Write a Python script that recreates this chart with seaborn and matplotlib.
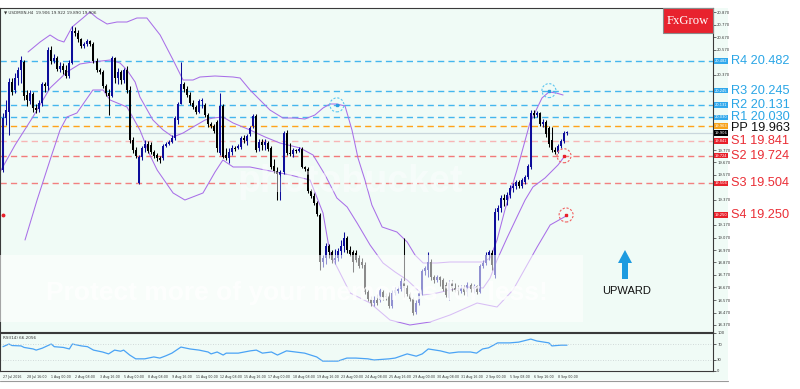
import numpy as np
import pandas as pd
import matplotlib
matplotlib.use("Agg")
import matplotlib.pyplot as plt
import seaborn as sns
from matplotlib.patches import Rectangle, Polygon, Ellipse

# ---------------- data (USDMXN, H4) ----------------
opens = [19.610, 20.026, 20.074, 20.314, 20.250, 20.346, 20.410, 20.474, 20.210, 20.162,
         20.218, 20.106, 20.098, 20.146, 20.298, 20.282, 20.570, 20.482, 20.506, 20.418,
         20.442, 20.410, 20.362, 20.466, 20.722, 20.706, 20.658, 20.602, 20.618, 20.642,
         20.618, 20.482, 20.410, 20.394, 20.282, 20.226, 20.202, 20.506, 20.346, 20.394,
         20.330, 20.410, 20.250, 19.850, 19.770, 19.506, 19.714, 19.786, 19.818, 19.810,
         19.754, 19.730, 19.706, 19.706, 19.802, 19.818, 19.834, 19.866, 20.010, 20.138,
         20.298, 20.258, 20.210, 20.146, 20.114, 20.074, 20.162, 20.130, 20.050, 19.978,
         19.962, 19.994, 19.746, 20.122, 19.730, 19.706, 19.754, 19.786, 19.786, 19.794,
         19.866, 19.842, 19.898, 19.962, 20.042, 19.786, 19.834, 19.810, 19.826, 19.786,
         19.642, 19.602, 19.570, 19.594, 19.906, 19.746, 19.738, 19.770, 19.762, 19.778,
         19.634, 19.618, 19.442, 19.402, 19.346, 19.250, 18.874, 18.906, 19.002, 18.954,
         18.890, 18.906, 18.962, 19.002, 19.066, 18.970, 18.954, 18.946, 18.906, 18.874,
         18.850, 18.634, 18.578, 18.546, 18.570, 18.570, 18.634, 18.602, 18.602, 18.522,
         18.626, 18.642, 18.658, 18.722, 18.666, 18.618, 18.578, 18.474, 18.546, 18.626,
         18.802, 18.810, 18.874, 18.754, 18.730, 18.754, 18.730, 18.690, 18.586, 18.706,
         18.666, 18.650, 18.642, 18.666, 18.634, 18.690, 18.658, 18.682, 18.634, 18.842,
         18.866, 18.930, 18.946, 18.770, 19.274, 19.306, 19.386, 19.370, 19.410, 19.466,
         19.482, 19.514, 19.482, 19.514, 19.554, 19.634, 20.066, 20.050, 20.066, 19.978,
         19.994, 19.946, 19.850, 19.770, 19.754, 19.802, 19.842, 19.906]
highs = [20.066, 20.170, 20.346, 20.346, 20.386, 20.434, 20.522, 20.490, 20.250, 20.250,
         20.234, 20.138, 20.170, 20.314, 20.314, 20.594, 20.602, 20.538, 20.522, 20.474,
         20.466, 20.450, 20.490, 20.762, 20.754, 20.730, 20.666, 20.634, 20.658, 20.650,
         20.634, 20.506, 20.426, 20.410, 20.298, 20.258, 20.522, 20.514, 20.426, 20.410,
         20.426, 20.442, 20.282, 19.874, 19.794, 19.730, 19.802, 19.850, 19.842, 19.834,
         19.770, 19.746, 19.722, 19.818, 19.834, 19.850, 19.890, 20.042, 20.154, 20.474,
         20.314, 20.282, 20.234, 20.170, 20.130, 20.178, 20.186, 20.146, 20.066, 19.994,
         19.978, 20.010, 20.226, 20.138, 19.786, 19.786, 19.810, 19.802, 19.818, 19.882,
         19.890, 19.898, 19.962, 20.058, 20.058, 19.858, 19.858, 19.858, 19.842, 19.802,
         19.698, 19.634, 19.610, 19.922, 19.930, 19.826, 19.786, 19.778, 19.794, 19.794,
         19.642, 19.634, 19.458, 19.426, 19.362, 19.266, 18.930, 19.026, 19.018, 18.970,
         18.978, 18.986, 19.050, 19.114, 19.082, 19.002, 18.970, 18.970, 18.930, 18.906,
         18.874, 18.650, 18.602, 18.602, 18.618, 18.666, 18.650, 18.626, 18.634, 18.650,
         18.674, 18.682, 18.746, 19.066, 18.690, 18.634, 18.594, 18.570, 18.642, 18.818,
         18.842, 18.954, 18.898, 18.770, 18.770, 18.762, 18.746, 18.714, 18.730, 18.730,
         18.706, 18.690, 18.690, 18.690, 18.714, 18.706, 18.698, 18.690, 18.858, 18.890,
         18.954, 18.970, 18.970, 19.306, 19.330, 19.410, 19.418, 19.434, 19.490, 19.506,
         19.530, 19.530, 19.546, 19.570, 19.658, 20.090, 20.090, 20.082, 20.074, 20.018,
         20.010, 19.962, 19.954, 19.794, 19.818, 19.858, 19.922, 19.922]
lows = [19.594, 19.970, 19.890, 20.210, 20.226, 20.290, 20.306, 20.170, 20.122, 20.138,
        20.074, 20.066, 20.074, 20.122, 20.234, 20.250, 20.458, 20.466, 20.402, 20.394,
        20.378, 20.346, 20.346, 20.458, 20.682, 20.634, 20.586, 20.586, 20.602, 20.602,
        20.466, 20.394, 20.378, 20.266, 20.202, 20.050, 20.194, 20.306, 20.298, 20.298,
        20.306, 20.226, 19.826, 19.746, 19.706, 19.498, 19.690, 19.754, 19.746, 19.738,
        19.706, 19.682, 19.666, 19.690, 19.794, 19.810, 19.826, 19.850, 19.978, 20.138,
        20.234, 20.194, 20.130, 20.098, 20.058, 20.066, 20.106, 20.034, 19.954, 19.946,
        19.906, 19.754, 19.730, 19.706, 19.690, 19.666, 19.730, 19.762, 19.778, 19.778,
        19.826, 19.810, 19.882, 19.946, 19.754, 19.762, 19.770, 19.770, 19.762, 19.618,
        19.586, 19.370, 19.370, 19.578, 19.730, 19.722, 19.714, 19.746, 19.754, 19.626,
        19.602, 19.426, 19.386, 19.330, 19.242, 18.810, 18.834, 18.858, 18.906, 18.866,
        18.858, 18.882, 18.906, 18.954, 18.946, 18.922, 18.794, 18.874, 18.826, 18.826,
        18.618, 18.562, 18.522, 18.522, 18.530, 18.554, 18.570, 18.570, 18.506, 18.506,
        18.610, 18.626, 18.642, 18.594, 18.602, 18.562, 18.450, 18.458, 18.530, 18.610,
        18.770, 18.754, 18.730, 18.706, 18.714, 18.682, 18.642, 18.594, 18.570, 18.642,
        18.634, 18.610, 18.626, 18.610, 18.602, 18.634, 18.626, 18.618, 18.626, 18.826,
        18.850, 18.890, 18.810, 18.746, 19.210, 19.274, 19.322, 19.330, 19.386, 19.434,
        19.458, 19.466, 19.466, 19.498, 19.538, 19.618, 20.026, 20.034, 19.962, 19.954,
        19.874, 19.794, 19.754, 19.738, 19.746, 19.786, 19.826, 19.890]
closes = [20.026, 20.090, 20.314, 20.234, 20.346, 20.410, 20.490, 20.202, 20.170, 20.226,
          20.106, 20.090, 20.146, 20.298, 20.282, 20.570, 20.482, 20.506, 20.418, 20.442,
          20.410, 20.362, 20.466, 20.722, 20.706, 20.658, 20.602, 20.618, 20.642, 20.618,
          20.482, 20.410, 20.394, 20.282, 20.226, 20.202, 20.506, 20.346, 20.394, 20.330,
          20.410, 20.250, 19.850, 19.770, 19.722, 19.714, 19.786, 19.818, 19.762, 19.754,
          19.722, 19.706, 19.690, 19.802, 19.818, 19.834, 19.866, 20.026, 20.138, 20.298,
          20.258, 20.210, 20.146, 20.114, 20.074, 20.162, 20.170, 20.050, 19.978, 19.962,
          19.922, 19.786, 20.122, 19.714, 19.706, 19.754, 19.786, 19.778, 19.802, 19.866,
          19.850, 19.882, 19.946, 20.042, 19.770, 19.834, 19.810, 19.834, 19.778, 19.634,
          19.602, 19.578, 19.594, 19.906, 19.746, 19.738, 19.770, 19.762, 19.778, 19.634,
          19.618, 19.442, 19.402, 19.346, 19.258, 18.874, 18.906, 19.002, 18.954, 18.890,
          18.906, 18.962, 19.002, 19.066, 18.970, 18.938, 18.874, 18.890, 18.842, 18.850,
          18.634, 18.578, 18.546, 18.570, 18.546, 18.650, 18.594, 18.594, 18.522, 18.626,
          18.650, 18.658, 18.722, 18.666, 18.618, 18.578, 18.466, 18.546, 18.626, 18.802,
          18.826, 18.874, 18.754, 18.730, 18.754, 18.730, 18.658, 18.610, 18.706, 18.666,
          18.650, 18.642, 18.666, 18.634, 18.690, 18.658, 18.682, 18.634, 18.842, 18.866,
          18.930, 18.954, 18.850, 19.274, 19.306, 19.386, 19.370, 19.410, 19.466, 19.482,
          19.514, 19.482, 19.530, 19.554, 19.642, 20.066, 20.050, 20.066, 19.978, 19.994,
          19.898, 19.818, 19.770, 19.754, 19.802, 19.842, 19.906, 19.906]

# Bollinger-band lines (bar index, price)
upper_idx = [8.3, 12.3, 15.6, 18.2, 20.2, 22.9, 26.5, 28.8, 31.2, 34.5, 37.8, 41.1, 44.4, 47.7,
             52.1, 56.4, 59.7, 63.0, 65.3, 70.3, 76.3, 78.6, 81.9, 85.2, 88.5, 92.8, 96.8,
             100.1, 103.4, 106.1, 108.4, 110.7, 113.4, 115.7, 117.7, 120.0, 122.3, 125.7,
             130.6, 134.0, 136.6, 139.3, 143.9, 148.2, 153.8, 159.2, 161.5, 163.8, 166.4,
             170.4, 174.7, 178.7, 181.0, 183.4, 185.7]
upper_val = [20.554, 20.634, 20.690, 20.650, 20.634, 20.754, 20.826, 20.874, 20.826, 20.778,
             20.794, 20.794, 20.826, 20.826, 20.690, 20.490, 20.330, 20.330, 20.354, 20.362,
             20.354, 20.346, 20.250, 20.170, 20.090, 20.026, 20.026, 20.018, 20.050, 20.106,
             20.138, 20.138, 20.122, 19.930, 19.706, 19.530, 19.330, 19.154, 19.114, 19.034,
             18.930, 18.866, 18.866, 18.874, 18.874, 18.874, 18.906, 19.050, 19.290, 19.610,
             19.986, 20.186, 20.234, 20.226, 20.210]
mid_idx = [-1.0, 4.0, 9.9, 15.6, 21.2, 25.5, 29.8, 35.5, 38.8, 41.1, 43.8, 45.4, 49.7, 53.1,
           56.4, 59.7, 63.0, 67.0, 69.6, 72.9, 76.3, 81.9, 86.9, 91.8, 98.5, 102.8, 106.8,
           110.7, 114.1, 117.4, 121.7, 126.0, 130.0, 134.0, 139.3, 143.9, 148.2, 153.8,
           159.2, 161.5, 163.8, 167.1, 170.4, 173.1, 175.7, 179.7, 184.0, 186.0]
mid_val = [19.594, 19.810, 20.034, 20.266, 20.394, 20.458, 20.474, 20.490, 20.466, 20.410,
           20.314, 20.194, 20.010, 19.930, 19.874, 19.906, 19.954, 20.010, 20.026, 20.034,
           19.986, 19.930, 19.874, 19.826, 19.786, 19.730, 19.570, 19.386, 19.314, 19.186,
           19.010, 18.866, 18.794, 18.730, 18.610, 18.626, 18.650, 18.674, 18.666, 18.746,
           18.890, 19.066, 19.234, 19.370, 19.474, 19.546, 19.650, 19.714]
low_idx = [7.3, 11.3, 15.6, 18.9, 21.2, 24.5, 29.8, 33.2, 35.5, 41.1, 45.4, 48.7, 51.1, 56.4,
           60.3, 66.3, 70.3, 72.9, 76.3, 81.9, 86.9, 95.2, 101.8, 106.1, 108.4, 115.1, 121.7,
           128.3, 134.9, 141.6, 148.2, 157.2, 163.8, 169.1, 177.1, 181.4, 186.7]
low_val = [19.050, 19.370, 19.690, 19.930, 20.034, 20.066, 20.250, 20.250, 20.170, 20.114,
           19.930, 19.730, 19.610, 19.426, 19.370, 19.426, 19.594, 19.690, 19.634, 19.634,
           19.610, 19.570, 19.530, 19.266, 18.946, 18.626, 18.546, 18.410, 18.370, 18.394,
           18.450, 18.546, 18.514, 18.650, 18.994, 19.170, 19.242]

# RSI(14) (bar index, value)
rsi_idx = [0, 2, 3, 6, 7, 10, 11, 13, 16, 17, 20, 22, 23, 26, 28, 30, 33, 35, 37, 39, 40, 42,
           44, 47, 50, 52, 54, 56, 59, 62, 65, 68, 69, 71, 73, 74, 78, 80, 82, 84, 86, 89, 91,
           94, 97, 100, 104, 106, 111, 114, 117, 121, 123, 128, 130, 134, 137, 139, 141, 145,
           148, 151, 155, 157, 159, 161, 164, 168, 171, 175, 177, 181, 182, 185, 187]
rsi_val = [64, 71, 67, 66, 62, 58, 55, 60, 71, 64, 62, 58, 71, 66, 64, 55, 50, 45, 55, 52, 55,
           42, 32, 32, 37, 34, 40, 47, 63, 58, 55, 50, 45, 50, 42, 47, 47, 50, 53, 55, 47, 50,
           42, 53, 50, 47, 37, 26, 26, 34, 34, 32, 29, 32, 34, 45, 39, 45, 58, 53, 47, 50, 50,
           47, 58, 61, 74, 74, 76, 84, 79, 74, 66, 68, 68]

pivot_names = ["R4", "R3", "R2", "R1", "PP", "S1", "S2", "S3", "S4"]
pivot_values = [20.482, 20.245, 20.131, 20.030, 19.963, 19.841, 19.724, 19.504, 19.250]
current_price = 19.906
price_ticks = [20.870, 20.770, 20.670, 20.570, 20.470, 20.370, 20.270, 20.170, 20.070,
               19.970, 19.870, 19.770, 19.670, 19.570, 19.470, 19.370, 19.270, 19.170,
               19.070, 18.970, 18.870, 18.770, 18.670, 18.570, 18.470, 18.370]
date_labels = ["27 Jul 2016", "28 Jul 16:00", "1 Aug 00:00", "2 Aug 08:00", "3 Aug 16:00",
               "5 Aug 00:00", "8 Aug 08:00", "9 Aug 16:00", "11 Aug 00:00", "12 Aug 08:00",
               "15 Aug 16:00", "17 Aug 00:00", "18 Aug 08:00", "19 Aug 16:00", "23 Aug 00:00",
               "24 Aug 08:00", "25 Aug 16:00", "29 Aug 00:00", "30 Aug 08:00", "31 Aug 16:00",
               "2 Sep 00:00", "5 Sep 08:00", "6 Sep 16:00", "8 Sep 00:00"]
rsi_ticks = [0, 30, 70, 100]
circle_marks_blue = [(110.7, 20.131), (181.0, 20.245)]
circle_marks_red = [(186.0, 19.724), (186.7, 19.250)]

# ---------------- style ----------------
sns.set_style("white")
plt.rcParams["font.family"] = ["DejaVu Sans"]

W, H = 800, 389
MINT = "#f0fbf6"
BULL = "#0d0d9a"
BEAR = "#000000"
BAND = "#a96fe8"
RCOL = "#2aa6e6"
SCOL = "#ea2d35"
PX_PER_BAR = 3.016
PRICE_PER_PX = 0.008

def fx(px):
    return px / W

def fy(py):
    return 1 - py / H

fig = plt.figure(figsize=(W / 100, H / 100), dpi=100)
fig.patch.set_facecolor("white")
fig.add_artist(Rectangle((0, fy(380)), fx(728), fy(8) - fy(380), transform=fig.transFigure,
                         facecolor=MINT, edgecolor="none", zorder=0))
fig.add_artist(plt.Line2D([0, fx(728)], [fy(380.5), fy(380.5)], transform=fig.transFigure,
                          color="#9a9a9a", lw=0.8, zorder=1))

ax = fig.add_axes([0, fy(332), fx(713), fy(8) - fy(332)])
rax = fig.add_axes([0, fy(371), fx(713), fy(333) - fy(371)])
for a in (ax, rax):
    a.set_facecolor(MINT)
    for s in a.spines.values():
        s.set_color("#3a3a3a")
        s.set_linewidth(0.8)

XL = (-0.995, 235.4)
ax.set_xlim(*XL)
ax.set_ylim(18.314, 20.906)
rax.set_xlim(*XL)
rax.set_ylim(0, 100)

# ---------------- candles ----------------
df = pd.DataFrame({"o": opens, "h": highs, "l": lows, "c": closes})
df["i"] = np.arange(len(df))
df["col"] = np.where(df["c"] >= df["o"], BULL, BEAR)
ax.vlines(df["i"], df["l"], df["h"], colors=df["col"], linewidth=0.75, zorder=3)
body_h = np.maximum((df["c"] - df["o"]).abs(), 0.007)
ax.bar(df["i"], body_h, bottom=np.minimum(df["o"], df["c"]), width=0.66,
       color=df["col"], linewidth=0, zorder=4)

# bands
for xs, ys in ((upper_idx, upper_val), (mid_idx, mid_val), (low_idx, low_val)):
    sns.lineplot(x=xs, y=ys, ax=ax, color=BAND, lw=0.75, sort=False, zorder=2)

# pivot lines
pcols = ["#45b6ee", "#45b6ee", "#45b6ee", "#45b6ee", "#ffa31a", "#f7b5b5", "#f27a7a", "#f28080"]
for v, col in zip(pivot_values[:8], pcols):
    ax.axhline(v, color=col, lw=1.0, ls=(0, (4.5, 3)), zorder=1.5)
ax.axhline(current_price, color="#c9d6dc", lw=0.9, zorder=1.4)

# circles marking band/pivot touches
ew, eh = 14 / PX_PER_BAR, 14 * PRICE_PER_PX
for (cx, cy) in circle_marks_blue:
    ax.add_patch(Ellipse((cx, cy), ew, eh, fill=False, ec="#5cc6f0", lw=0.8, ls=(0, (2, 1.5)), zorder=6))
    ax.plot([cx], [cy], marker="s", ms=1.6, color="#2a9de0", zorder=6)
for (cx, cy) in circle_marks_red:
    ax.add_patch(Ellipse((cx, cy), ew, eh, fill=False, ec="#f06060", lw=0.8, ls=(0, (2, 1.5)), zorder=6))
    ax.plot([cx], [cy], marker="s", ms=1.6, color="#e8202a", zorder=6)
ax.plot([0], [pivot_values[8]], marker="o", ms=1.8, color="#e8202a", zorder=6)

# watermark overlay (photobucket)
ax.add_patch(Rectangle((XL[0], 18.394), 193.3, 0.536, facecolor="white", alpha=0.55,
                       edgecolor="none", zorder=5))
ax.text(97.5, 18.626, "Protect more of your memories for less!", fontsize=19, fontweight="bold",
        color="white", alpha=0.8, ha="center", va="center", zorder=5.5,
        family=["Liberation Sans", "DejaVu Sans"])
ax.text(115, 19.514, "photobucket", fontsize=27, fontweight="bold", color="white", alpha=0.45,
        ha="center", va="center", zorder=5.5, family=["Liberation Sans", "DejaVu Sans"])

# right price scale (labels hidden where a level tag sits on top)
tag_levels = pivot_values + [current_price]
shown_ticks = [t for t in price_ticks
               if min(abs(t - v) for v in tag_levels) / PRICE_PER_PX > 5.5]
ax.set_xticks([])
ax.yaxis.tick_right()
ax.set_yticks(shown_ticks)
ax.set_yticklabels([f"{t:.3f}" for t in shown_ticks], fontsize=2.7, color="#333333")
ax.tick_params(axis="y", length=2, width=0.5, pad=1, colors="#333333")
ax.set_ylabel("")

tag_cols = ["#31a8ec", "#31a8ec", "#31a8ec", "#31a8ec", "#f7a21b", "#e8202a", "#e8202a", "#e8202a", "#e8202a"]
for v, col in zip(pivot_values, tag_cols):
    ax.text(1.0028, v, f"{v:.3f}", transform=ax.get_yaxis_transform(), fontsize=2.6, color="white",
            va="center", ha="left", clip_on=False, zorder=7,
            bbox=dict(boxstyle="square,pad=0.2", fc=col, ec="none"))
ax.text(1.0028, current_price, f"{current_price:.3f}", transform=ax.get_yaxis_transform(),
        fontsize=2.6, color="white", va="center", ha="left", clip_on=False, zorder=7,
        bbox=dict(boxstyle="square,pad=0.2", fc="black", ec="none"))

# big pivot labels (PP text sits a couple of pixels below its line, as in the source)
label_shift_px = {"PP": 2.2}
for name, v in zip(pivot_names, pivot_values):
    col = RCOL if name.startswith("R") else ("#111111" if name == "PP" else SCOL)
    ty = v - label_shift_px.get(name, 0.0) * PRICE_PER_PX
    ax.text(731 / 713, ty, f"{name} {v:.3f}", transform=ax.get_yaxis_transform(), fontsize=9.2,
            color=col, va="center", ha="left", clip_on=False,
            family=["Liberation Sans", "DejaVu Sans"])

# ---------------- RSI pane ----------------
sns.lineplot(x=rsi_idx, y=rsi_val, ax=rax, color="#4aa3f5", lw=0.9, sort=False)
for lv in (30, 70):
    rax.axhline(lv, color="#c8d0d0", lw=0.6, ls=(0, (1, 2)))
rax.yaxis.tick_right()
rax.set_yticks(rsi_ticks)
rax.set_yticklabels([str(t) for t in rsi_ticks], fontsize=2.7, color="#333333")
rax.tick_params(axis="y", length=2, width=0.5, pad=1)
rax.set_ylabel("")
rax.text(3 / 713, 0.93, "RSI(14) 66.2056", transform=rax.transAxes, fontsize=3.0,
         color="#333333", va="top", ha="left")
date_pos = [8 * k for k in range(len(date_labels))]
rax.set_xticks(date_pos)
rax.set_xticklabels(date_labels, fontsize=2.35, color="#333333", ha="left")
rax.tick_params(axis="x", length=2, width=0.5, pad=1.2)

# header text
fig.text(fx(4), fy(12), "\u25bc USDMXN,H4  19.906 19.922 19.890 19.906", fontsize=3.0,
         color="#333333", va="center", ha="left")

# FxGrow logo
fig.add_artist(Rectangle((fx(663), fy(33)), fx(713) - fx(663), fy(8) - fy(33),
                         transform=fig.transFigure, facecolor="#e8232e", edgecolor="#8a8a8a",
                         lw=0.8, zorder=8))
fig.text(fx(688), fy(20.5), "FxGrow", fontsize=9.2, color="white", ha="center", va="center",
         family=["Liberation Serif", "DejaVu Serif"], zorder=9)

# UPWARD arrow
arrow_px = [(625, 250), (632, 263), (628, 263), (628, 279), (622, 279), (622, 263), (618, 263)]
fig.add_artist(Polygon([(fx(x), fy(y)) for x, y in arrow_px], closed=True,
                       transform=fig.transFigure, facecolor="#1d9be0", edgecolor="none", zorder=8))
fig.text(fx(627), fy(291), "UPWARD", fontsize=8, color="#111111", ha="center", va="center",
         family=["Liberation Sans", "DejaVu Sans"], zorder=9)

fig.savefig("out.png", dpi=100, facecolor="white")
